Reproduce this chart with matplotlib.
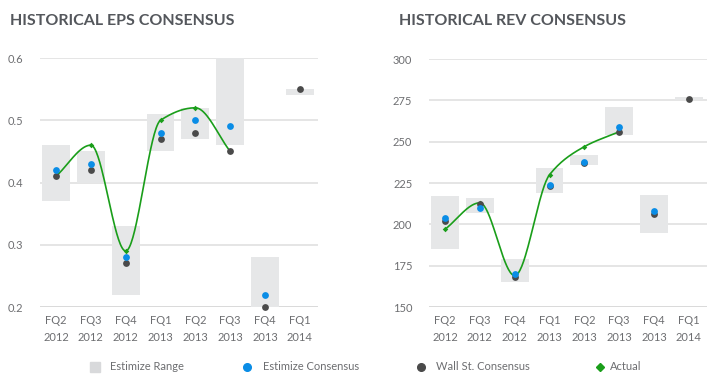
import numpy as np
import matplotlib
matplotlib.use("Agg")
import matplotlib.pyplot as plt
from matplotlib.lines import Line2D
from matplotlib.patches import Rectangle

plt.rcParams['font.family'] = ['Lato', 'DejaVu Sans']

quarters = ["FQ2\n2012", "FQ3\n2012", "FQ4\n2012", "FQ1\n2013",
            "FQ2\n2013", "FQ3\n2013", "FQ4\n2013", "FQ1\n2014"]

# EPS
eps_low = [0.37, 0.40, 0.22, 0.45, 0.47, 0.46, 0.20, 0.54]
eps_high = [0.46, 0.45, 0.33, 0.51, 0.52, 0.60, 0.28, 0.55]
eps_estimize = [0.42, 0.43, 0.28, 0.48, 0.50, 0.49, 0.22, None]
eps_wallst = [0.41, 0.42, 0.27, 0.47, 0.48, 0.45, 0.20, 0.55]
eps_actual = [0.41, 0.46, 0.29, 0.50, 0.52, 0.45]

# revenue
rev_low = [185, 207, 165, 219, 236, 254, 195, 275]
rev_high = [217, 216, 179, 234, 242, 271, 218, 277]
rev_estimize = [204, 210, 170, 224, 238, 259, 208, None]
rev_wallst = [202, 212, 168, 223, 237, 256, 206, 276]
rev_actual = [197, 213, 169, 230, 247, 256]

RANGE_C = "#e6e7e8"
BLUE = "#0a8de6"
DARK = "#4a4a4a"
GREEN = "#1a9e1a"
TEXT = "#6d6e71"
GRID = "#e3e3e3"


def monotone(x, y, n=40):
    # monotone cubic hermite (Fritsch-Carlson) for the smooth actual line
    x = np.asarray(x, float)
    y = np.asarray(y, float)
    h = np.diff(x)
    d = np.diff(y) / h
    m = np.zeros_like(y)
    m[0], m[-1] = d[0], d[-1]
    for i in range(1, len(y) - 1):
        if d[i - 1] * d[i] <= 0:
            m[i] = 0
        else:
            w1 = 2 * h[i] + h[i - 1]
            w2 = h[i] + 2 * h[i - 1]
            m[i] = (w1 + w2) / (w1 / d[i - 1] + w2 / d[i])
    xs, ys = [], []
    for i in range(len(h)):
        t = np.linspace(0, 1, n)
        h00 = 2 * t**3 - 3 * t**2 + 1
        h10 = t**3 - 2 * t**2 + t
        h01 = -2 * t**3 + 3 * t**2
        h11 = t**3 - t**2
        xs.append(x[i] + t * h[i])
        ys.append(h00 * y[i] + h10 * h[i] * m[i] + h01 * y[i + 1] + h11 * h[i] * m[i + 1])
    return np.concatenate(xs), np.concatenate(ys)


def draw(ax, low, high, est, wall, actual, yticks, fmt):
    x = np.arange(len(quarters))
    for i in x:
        ax.add_patch(Rectangle((i - 0.4, low[i]), 0.8, high[i] - low[i],
                               facecolor=RANGE_C, edgecolor="none", zorder=1,
                               clip_on=False))
    sx, sy = monotone(np.arange(len(actual)), actual)
    ax.plot(sx, sy, color=GREEN, lw=1.2, zorder=2)
    ax.scatter(np.arange(len(actual)), actual, s=8, marker="D", color=GREEN,
               zorder=2, linewidths=0)
    xa = [i for i in x if est[i] is not None]
    ax.scatter(x, wall, s=24, color=DARK, zorder=3, linewidths=0, clip_on=False)
    ax.scatter(xa, [est[i] for i in xa], s=24, color=BLUE, zorder=4,
               linewidths=0, clip_on=False)

    ax.set_xlim(-0.46, 7.52)
    ax.set_ylim(yticks[0], yticks[-1])
    ax.set_yticks(yticks)
    ax.set_yticklabels([fmt(v) for v in yticks])
    ax.set_xticks(x)
    ax.set_xticklabels(quarters, linespacing=1.6)
    for v in yticks:
        ax.axhline(v, color=GRID if v != yticks[0] else "#d6d6d6",
                   lw=1.3 if v != yticks[0] else 2, zorder=0)
    for s in ax.spines.values():
        s.set_visible(False)
    ax.tick_params(length=0, labelsize=8, labelcolor=TEXT)
    ax.tick_params(axis="y", pad=12)
    ax.tick_params(axis="x", pad=6)
    ax.set_facecolor("none")


fig = plt.figure(figsize=(7.21, 3.86), dpi=100)
ax1 = fig.add_axes([40 / 721, 1 - 307 / 386, 278 / 721, 249 / 386])
ax2 = fig.add_axes([429 / 721, 1 - 307 / 386, 278 / 721, 248 / 386])

draw(ax1, eps_low, eps_high, eps_estimize, eps_wallst, eps_actual,
     [0.2, 0.3, 0.4, 0.5, 0.6], lambda v: f"{v:.1f}")
draw(ax2, rev_low, rev_high, rev_estimize, rev_wallst, rev_actual,
     [150, 175, 200, 225, 250, 275, 300], lambda v: f"{v:d}")

fig.text(10 / 721, 1 - 21 / 386, "HISTORICAL EPS CONSENSUS", fontsize=11.5,
         fontweight="bold", color="#54575c", va="center", ha="left")
fig.text(399 / 721, 1 - 21 / 386, "HISTORICAL REV CONSENSUS", fontsize=11.5,
         fontweight="bold", color="#54575c", va="center", ha="left")

# legend
ly = 1 - 367 / 386
items = [(95, "s", "#d8d9db", 7, 110, "Estimize Range"),
         (247, "o", BLUE, 5.5, 263, "Estimize Consensus"),
         (421, "o", DARK, 5.5, 436, "Wall St. Consensus"),
         (600, "D", GREEN, 4.5, 610, "Actual")]
for mx, mk, c, ms, tx, label in items:
    fig.add_artist(Line2D([mx / 721], [ly], marker=mk, color=c, markersize=ms,
                          linestyle="none", transform=fig.transFigure))
    fig.text(tx / 721, ly, label, fontsize=8, color=TEXT, va="center", ha="left")

fig.savefig("out.png", dpi=100, facecolor="white")
